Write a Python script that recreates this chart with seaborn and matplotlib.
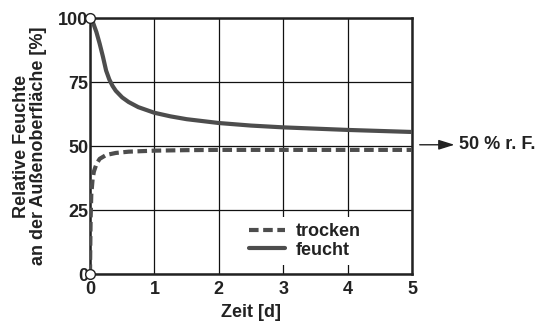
import matplotlib
matplotlib.use("Agg")
import matplotlib.pyplot as plt
import seaborn as sns
import pandas as pd

# Drying curves: relative humidity at the outer surface over time
zeit_feucht = [0.0, 0.05, 0.1, 0.15, 0.2, 0.25, 0.3, 0.35, 0.4, 0.5, 0.6, 0.75, 1.0, 1.25, 1.5, 2.0, 2.5, 3.0, 3.5, 4.0, 4.5, 5.0]
rf_feucht = [100.0, 98.0, 94.5, 90.0, 85.0, 79.5, 76.0, 73.5, 71.6, 69.0, 67.2, 65.2, 63.0, 61.6, 60.5, 59.0, 58.0, 57.3, 56.8, 56.3, 55.9, 55.5]

zeit_trocken = [0.0, 0.005, 0.01, 0.02, 0.04, 0.06, 0.1, 0.15, 0.25, 0.4, 0.6, 1.0, 1.5, 2.0, 3.0, 4.0, 5.0]
rf_trocken = [0.0, 12.0, 22.0, 31.0, 37.0, 40.0, 43.0, 45.0, 46.5, 47.3, 47.8, 48.2, 48.4, 48.5, 48.5, 48.5, 48.5]

x_ticks = [0, 1, 2, 3, 4, 5]
y_ticks = [0, 25, 50, 75, 100]
labels = ["trocken", "feucht"]

sns.set_theme(style="white")
plt.rcParams["font.family"] = ["Liberation Sans", "DejaVu Sans"]
plt.rcParams["font.weight"] = "bold"

ink = "#222222"
line_col = "#4d4d4d"
fs = 13

fig = plt.figure(figsize=(5.37, 3.26), dpi=100)
ax = fig.add_axes([0.1676, 0.1595, 0.5996, 0.785])

df_f = pd.DataFrame({"Zeit": zeit_feucht, "RF": rf_feucht})
df_t = pd.DataFrame({"Zeit": zeit_trocken, "RF": rf_trocken})

sns.lineplot(data=df_t, x="Zeit", y="RF", ax=ax, color=line_col, lw=3.0,
             label=labels[0], zorder=3)
sns.lineplot(data=df_f, x="Zeit", y="RF", ax=ax, color=line_col, lw=3.0,
             label=labels[1], zorder=3)
ax.lines[0].set_dashes((2.3, 1.1))
ax.lines[0].set_dash_capstyle("butt")

# open start markers
ax.plot([zeit_feucht[0], zeit_trocken[0]], [rf_feucht[0], rf_trocken[0]], "o",
        ms=7, mfc="white", mec=ink, mew=1.0, zorder=6, clip_on=False)

ax.set_xlim(0, 5)
ax.set_ylim(0, 100)
ax.set_xticks(x_ticks)
ax.set_yticks(y_ticks)
ax.grid(True, color="#111111", lw=0.9)
ax.set_axisbelow(True)
for s in ax.spines.values():
    s.set_color(ink)
    s.set_linewidth(1.8)
ax.tick_params(axis="both", length=0, labelsize=fs, colors=ink)
ax.tick_params(axis="x", pad=5)
ax.tick_params(axis="y", pad=1)
for t in ax.get_xticklabels() + ax.get_yticklabels():
    t.set_fontweight("bold")

ax.set_xlabel("Zeit [d]", fontsize=fs, fontweight="bold", color=ink, labelpad=4)
ax.set_ylabel("Relative Feuchte\nan der Außenoberfläche [%]", fontsize=13,
              fontweight="bold", color=ink, labelpad=8, linespacing=1.0)

leg = ax.legend(loc="lower left", bbox_to_anchor=(0.445, 0.0), frameon=True,
                facecolor="white", edgecolor="none", framealpha=1,
                fontsize=fs, handlelength=2.0, handletextpad=0.6,
                labelspacing=0.08, borderpad=0.35)
for t in leg.get_texts():
    t.set_fontweight("bold")
    t.set_color(ink)
leg.set_zorder(5)

# arrow pointing to the equilibrium level outside the plot
ax.annotate("", xy=(5.66, 50.5), xytext=(5.12, 50.5), annotation_clip=False,
            arrowprops=dict(arrowstyle="-|>,head_length=0.8,head_width=0.25",
                            color=ink, lw=1.0, shrinkA=0, shrinkB=0))
ax.text(5.73, 50.5, "50 % r. F.", ha="left", va="center", fontsize=fs,
        fontweight="bold", color=ink, clip_on=False)

fig.savefig("out.png", dpi=100)
